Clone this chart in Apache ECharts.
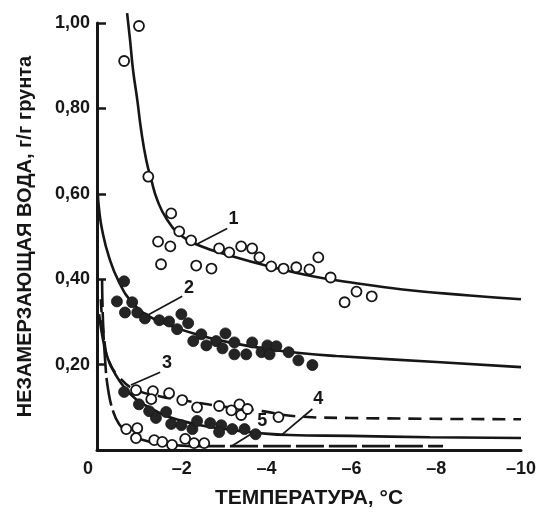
<!DOCTYPE html>
<html>
<head>
<meta charset="utf-8">
<script src="https://cdn.jsdelivr.net/npm/echarts@6/dist/echarts.min.js"></script>
<style>
  html, body { margin: 0; padding: 0; background: #ffffff; }
  #chart { width: 539px; height: 514px; }
</style>
</head>
<body>
<div id="chart"></div>
<script>
// Unfrozen water content (g/g of soil) versus temperature (°C), five soils.
// Each pair is [temperature, water content].

// Soil 1: fitted curve and measured points (open circles)
const curve1 = [
  [-0.71, 1.023], [-0.78, 0.960], [-0.85, 0.890], [-0.95, 0.820], [-1.04, 0.750],
  [-1.16, 0.680], [-1.28, 0.633], [-1.42, 0.586], [-1.65, 0.540], [-1.99, 0.502],
  [-2.41, 0.479], [-3.12, 0.456], [-4.07, 0.430], [-5.08, 0.407], [-5.96, 0.393],
  [-7.21, 0.376], [-8.79, 0.362], [-10.0, 0.353]
];
const points1 = [
  [-0.99, 0.993], [-0.64, 0.911], [-1.21, 0.640], [-1.75, 0.554], [-1.94, 0.512],
  [-2.22, 0.491], [-1.44, 0.488], [-1.73, 0.477], [-1.51, 0.435], [-2.34, 0.432],
  [-2.70, 0.425], [-2.88, 0.472], [-3.12, 0.463], [-3.40, 0.477], [-3.66, 0.472],
  [-3.83, 0.451], [-4.11, 0.430], [-4.40, 0.425], [-4.70, 0.428], [-5.01, 0.423],
  [-5.22, 0.451], [-5.51, 0.404], [-5.84, 0.346], [-6.12, 0.371], [-6.48, 0.360]
];

// Soil 2: fitted curve and measured points (filled circles)
const curve2 = [
  [-0.02, 0.598], [-0.05, 0.563], [-0.12, 0.516], [-0.28, 0.453], [-0.52, 0.393],
  [-0.83, 0.346], [-1.23, 0.313], [-1.77, 0.290], [-2.34, 0.271], [-3.12, 0.252],
  [-4.07, 0.236], [-4.78, 0.227], [-5.65, 0.220], [-8.01, 0.206], [-10.0, 0.194]
];
const points2 = [
  [-0.64, 0.395], [-0.47, 0.348], [-0.83, 0.346], [-0.66, 0.322], [-0.95, 0.322],
  [-1.13, 0.308], [-1.47, 0.304], [-1.70, 0.301], [-1.99, 0.318], [-2.15, 0.297],
  [-1.89, 0.283], [-2.46, 0.271], [-2.27, 0.255], [-2.58, 0.245], [-2.81, 0.255],
  [-3.03, 0.273], [-2.96, 0.238], [-3.24, 0.252], [-3.24, 0.224], [-3.52, 0.224],
  [-3.66, 0.252], [-3.88, 0.229], [-4.02, 0.245], [-4.23, 0.243], [-4.07, 0.224],
  [-4.52, 0.229], [-4.75, 0.210], [-5.08, 0.199]
];

// Soil 3: fitted curve and measured points (filled circles)
const curve3 = [
  [-0.05, 0.318], [-0.14, 0.259], [-0.26, 0.213], [-0.43, 0.178], [-0.64, 0.147],
  [-0.92, 0.119], [-1.23, 0.100], [-1.58, 0.082], [-1.94, 0.070], [-2.53, 0.056],
  [-3.17, 0.047], [-3.78, 0.040], [-4.54, 0.035], [-5.96, 0.033], [-7.85, 0.030],
  [-10.0, 0.028]
];
const points3 = [
  [-0.64, 0.136], [-0.99, 0.107], [-1.23, 0.091], [-1.39, 0.075], [-1.63, 0.089],
  [-1.75, 0.061], [-1.99, 0.058], [-2.25, 0.049], [-2.36, 0.068], [-2.67, 0.063],
  [-2.93, 0.058], [-2.88, 0.042], [-3.19, 0.049], [-3.48, 0.049], [-3.74, 0.037]
];

// Soil 4: short-dashed curve and measured points (open circles)
const curve4 = [
  [-0.09, 0.353], [-0.17, 0.259], [-0.28, 0.208], [-0.52, 0.171], [-0.87, 0.143],
  [-1.47, 0.126], [-2.17, 0.114], [-2.88, 0.103], [-3.90, 0.091], [-4.68, 0.079],
  [-5.96, 0.075], [-10.0, 0.072]
];
const points4 = [
  [-0.92, 0.140], [-1.32, 0.138], [-1.70, 0.133], [-1.28, 0.119], [-2.01, 0.117],
  [-2.36, 0.100], [-2.88, 0.103], [-3.17, 0.093], [-3.36, 0.107], [-3.40, 0.082],
  [-3.55, 0.096], [-4.28, 0.077]
];

// Soil 5: long-dashed curve and measured points (open circles)
const curve5 = [
  [-0.12, 0.400], [-0.14, 0.306], [-0.19, 0.213], [-0.26, 0.143], [-0.38, 0.091],
  [-0.52, 0.061], [-0.76, 0.037], [-1.11, 0.023], [-1.58, 0.014], [-2.41, 0.009],
  [-8.16, 0.009]
];
const points5 = [
  [-0.69, 0.049], [-0.95, 0.051], [-0.92, 0.028], [-1.35, 0.023], [-1.54, 0.019],
  [-1.77, 0.012], [-2.08, 0.026], [-2.29, 0.016], [-2.53, 0.016]
];

// Curve numbers with their leader lines (label position, leader start, leader end)
const calloutText = ['1', '2', '3', '4', '5'];
const calloutLabelAt = [[-3.22, 0.540], [-2.17, 0.379], [-1.65, 0.203], [-5.22, 0.119], [-3.90, 0.068]];
const leaderFrom = [[-3.07, 0.519], [-2.01, 0.360], [-1.49, 0.182], [-5.08, 0.096], [-3.74, 0.044]];
const leaderTo = [[-2.34, 0.481], [-1.18, 0.315], [-0.80, 0.152], [-4.35, 0.035], [-3.17, 0.009]];

// Axis ticks
const xTickValues = [0, -2, -4, -6, -8, -10];
const yTickValues = [0, 0.2, 0.4, 0.6, 0.8, 1.0];

const INK = '#161616';
const FONT = '"Liberation Sans", Arial, Helvetica, sans-serif';

function lineSeries(data, dash, clip) {
  return {
    type: 'line', data: data, symbol: 'none', smooth: 0.5,
    clip: clip, z: 2,
    lineStyle: { color: INK, width: 2.6, type: dash, cap: 'butt', opacity: 1 }
  };
}
function openPoints(data) {
  return {
    type: 'scatter', data: data, symbol: 'circle', symbolSize: 10, z: 4,
    itemStyle: { color: '#ffffff', borderColor: INK, borderWidth: 1.8, opacity: 1 }
  };
}
function filledPoints(data) {
  return {
    type: 'scatter', data: data, symbol: 'circle', symbolSize: 11, z: 4,
    itemStyle: { color: '#242424', borderColor: INK, borderWidth: 0.8, opacity: 1 }
  };
}

const chart = echarts.init(document.getElementById('chart'), null, { renderer: 'canvas' });

chart.setOption({
  backgroundColor: '#ffffff',
  animation: false,
  grid: { left: 97, right: 18, top: 23, bottom: 63, containLabel: false },
  xAxis: {
    type: 'value', min: -10, max: 0, interval: 2, inverse: true,
    name: 'ТЕМПЕРАТУРА, °С', nameLocation: 'middle', nameGap: 38,
    nameTextStyle: { color: INK, fontFamily: FONT, fontWeight: 'bold', fontSize: 21 },
    axisLine: { show: true, onZero: false, lineStyle: { color: INK, width: 3 } },
    axisTick: { show: false },
    splitLine: { show: false },
    axisLabel: {
      margin: 10, color: INK, fontFamily: FONT, fontWeight: 'bold', fontSize: 18,
      customValues: xTickValues,
      formatter: function (v) {
        return v === 0 ? '{z|0}' : '–' + Math.abs(v);
      },
      rich: { z: { padding: [0, 18, 0, 0], color: INK, fontFamily: FONT, fontWeight: 'bold', fontSize: 18 } }
    }
  },
  yAxis: {
    type: 'value', min: 0, max: 1, interval: 0.2,
    name: 'НЕЗАМЕРЗАЮЩАЯ ВОДА, г/г грунта', nameLocation: 'middle', nameGap: 62, nameRotate: 90,
    nameTextStyle: { color: INK, fontFamily: FONT, fontWeight: 'bold', fontSize: 20 },
    axisLine: { show: true, onZero: false, lineStyle: { color: INK, width: 3 } },
    axisTick: { show: true, inside: true, length: 9, lineStyle: { color: INK, width: 2.5 } },
    splitLine: { show: false },
    axisLabel: {
      margin: 7, color: INK, fontFamily: FONT, fontWeight: 'bold', fontSize: 18,
      customValues: yTickValues,
      formatter: function (v) {
        return v === 0 ? '' : v.toFixed(2).replace('.', ',');
      }
    }
  },
  series: [
    lineSeries(curve1, 'solid', false),
    lineSeries(curve2, 'solid', true),
    lineSeries(curve3, 'solid', true),
    lineSeries(curve4, [13, 8], true),
    lineSeries(curve5, [28, 5], true),
    openPoints(points1),
    filledPoints(points2),
    filledPoints(points3),
    openPoints(points4),
    openPoints(points5),
    {
      type: 'lines', coordinateSystem: 'cartesian2d', z: 3, silent: true,
      lineStyle: { color: INK, width: 1.7, opacity: 1 },
      data: leaderFrom.map(function (p, i) { return { coords: [p, leaderTo[i]] }; })
    },
    {
      type: 'scatter', symbolSize: 1, z: 5, silent: true,
      itemStyle: { opacity: 1, color: 'rgba(0,0,0,0)' },
      data: calloutLabelAt.map(function (p, i) { return { value: p, name: calloutText[i] }; }),
      label: {
        show: true, position: 'inside', formatter: '{b}', opacity: 1,
        color: INK, fontFamily: FONT, fontWeight: 'bold', fontSize: 18
      }
    }
  ]
});
</script>
</body>
</html>
